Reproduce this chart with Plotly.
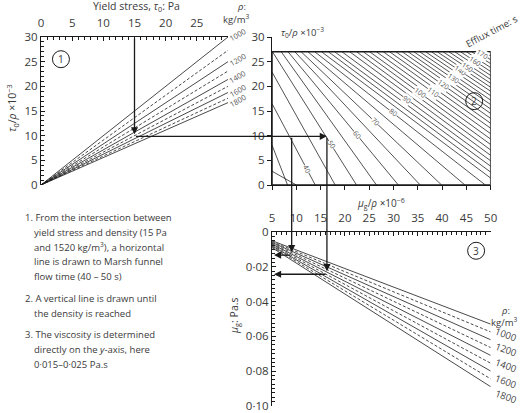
import math
import plotly.graph_objects as go

W, H = 520, 413

# ---------------- data ----------------
# Panel 1: tau0/rho (x10^-3) against yield stress for each density
p1_density = [1000, 1100, 1200, 1300, 1400, 1500, 1600, 1700, 1800]
p1_tau_start = [0, 0, 0, 0, 0, 0, 0, 0, 0]
p1_tau_end = [30, 30, 30, 30, 30, 30, 30, 30, 30]
p1_ratio_start = [0, 0, 0, 0, 0, 0, 0, 0, 0]
p1_ratio_end = [30.0, 27.3, 25.0, 23.1, 21.4, 20.0, 18.75, 17.6, 16.7]

# Panel 2: efflux-time lines, end points (mu_g/rho x10^-6, tau0/rho x10^-3)
p2_x_upper = [5.0, 5.0, 5.0, 5.1, 6.9, 8.3, 9.7, 11.0, 12.4, 13.8,
              15.2, 16.6, 17.9, 19.4, 21.0, 22.4, 23.8, 25.1, 26.5, 27.9,
              29.2, 30.5, 31.8, 33.0, 34.2, 35.4, 36.6, 37.8, 39.0, 40.2,
              41.4, 42.6, 43.8, 45.0, 46.1, 47.4, 48.6]
p2_y_upper = [8.1, 16.5, 22.9, 27, 27, 27, 27, 27, 27, 27,
              27, 27, 27, 27, 27, 27, 27, 27, 27, 27,
              27, 27, 27, 27, 27, 27, 27, 27, 27, 27,
              27, 27, 27, 27, 27, 27, 27]
p2_x_lower = [8.2, 13.9, 18.0, 22.4, 26.5, 31.0, 35.5, 39.9, 44.7, 48.9,
              50, 50, 50, 50, 50, 50, 50, 50, 50, 50,
              50, 50, 50, 50, 50, 50, 50, 50, 50, 50,
              50, 50, 50, 50, 50, 50, 50]
p2_y_lower = [0, 0, 0, 0, 0, 0, 0, 0, 0, 0,
              1.4, 2.6, 3.8, 4.9, 6.0, 7.1, 8.2, 9.3, 10.4, 11.5,
              12.5, 13.5, 14.5, 15.4, 16.3, 17.2, 18.1, 19.0, 19.8, 20.6,
              21.4, 22.2, 23.0, 23.8, 24.6, 25.4, 26.2]
p2_limit_x = [5.0, 10.0]
p2_limit_y = [2.8, 0.0]
p2_box_x = [5, 50]
p2_box_y = [0, 27]
# efflux-time labels (s) and where they sit
p2_label_time = [40, 50, 60, 70, 80, 90, 100, 110, 120, 130, 140, 150, 160, 170]
p2_label_x = [12.1, 17.2, 22.4, 26.2, 29.9, 32.7, 35.4, 38.2, 40.2, 42.3, 43.7, 45.2, 46.8, 48.3]
p2_label_y = [3.6, 7.3, 10.5, 12.8, 14.5, 16.9, 18.2, 19.2, 20.4, 21.8, 22.9, 23.9, 25.3, 26.3]

# Panel 3: viscosity against mu_g/rho for each density
p3_density = [1000, 1100, 1200, 1300, 1400, 1500, 1600, 1700, 1800]
p3_x_start = [5, 5, 5, 5, 5, 5, 5, 5, 5]
p3_x_end = [50, 50, 50, 50, 50, 50, 50, 50, 50]
p3_mu_start = [0.0050, 0.0055, 0.0060, 0.0065, 0.0070, 0.0075, 0.0080, 0.0085, 0.0090]
p3_mu_end = [0.053, 0.0575, 0.062, 0.0665, 0.071, 0.0755, 0.080, 0.0845, 0.089]

# Worked example
ex_tau0 = 15
ex_ratio = 9.87
ex_mu_rho = [9.05, 16.3]
ex_mu = [0.0133, 0.0243]

p1_ticks = [0, 5, 10, 15, 20, 25, 30]
p1_top_ticktext = ['0', '5', '10', '15', '20', '25', '']
p1_ticktext = ['0', '5', '10', '15', '20', '25', '30']
p3_yticks = [0, 0.02, 0.04, 0.06, 0.08, 0.10]
p3_yticktext = ['0', '0·02', '0·04', '0·06', '0·08', '0·10']

notes = [
    ("1. From the intersection between", 0),
    ("yield stress and density (15 Pa", 1),
    ("and 1520 kg/m<sup>3</sup>), a horizontal", 1),
    ("line is drawn to Marsh funnel", 1),
    ("flow time (40 – 50 s)", 1),
    ("2. A vertical line is drawn until", 0),
    ("the density is reached", 1),
    ("3. The viscosity is determined", 0),
    ("directly on the <i>y</i>-axis, here", 1),
    ("0·015–0·025 Pa.s", 1),
]
note_y_px = [217, 232, 247, 261.5, 276, 298, 313, 334.5, 349.5, 364.5]

# ---------------- layout geometry ----------------
def px_x(p):
    return p / W


def px_y(p):
    return 1 - p / H


X1_DOM = [px_x(41), px_x(228)]
Y1_DOM = [px_y(185), px_y(37)]
X2_DOM = [px_x(272), px_x(490.7)]
Y3_DOM = [px_y(406), px_y(232)]
X1_RNG = [0, 30]
Y1_RNG = [0, 30]
X2_RNG = [5, 50]
Y3_RNG = [0.1001, 0]


def to_paper(v, dom, rng):
    return dom[0] + (v - rng[0]) / (rng[1] - rng[0]) * (dom[1] - dom[0])


def from_paper(p, dom, rng):
    return rng[0] + (p - dom[0]) / (dom[1] - dom[0]) * (rng[1] - rng[0])


LINE = '#1a1a1a'
TXT = '#3a3a3a'
FONT = 'Open Sans'

fig = go.Figure()

for i, rho in enumerate(p1_density):
    fig.add_trace(go.Scatter(
        x=[p1_tau_start[i], p1_tau_end[i]], y=[p1_ratio_start[i], p1_ratio_end[i]],
        mode='lines', xaxis='x', yaxis='y', hoverinfo='skip', showlegend=False,
        line=dict(color=LINE, width=0.8, dash='solid' if rho % 200 == 0 else '3px,2px')))

for i in range(len(p2_x_upper)):
    fig.add_trace(go.Scatter(
        x=[p2_x_upper[i], p2_x_lower[i]], y=[p2_y_upper[i], p2_y_lower[i]],
        mode='lines', xaxis='x2', yaxis='y2', hoverinfo='skip', showlegend=False,
        line=dict(color=LINE, width=0.75)))
fig.add_trace(go.Scatter(x=p2_limit_x, y=p2_limit_y, mode='lines', xaxis='x2', yaxis='y2',
                         hoverinfo='skip', showlegend=False, line=dict(color=LINE, width=0.75)))

for i, rho in enumerate(p3_density):
    fig.add_trace(go.Scatter(
        x=[p3_x_start[i], p3_x_end[i]], y=[p3_mu_start[i], p3_mu_end[i]],
        mode='lines', xaxis='x3', yaxis='y3', hoverinfo='skip', showlegend=False,
        line=dict(color=LINE, width=0.8, dash='solid' if rho % 200 == 0 else '3px,2px')))

ann = []
shapes = []

shapes.append(dict(type='rect', xref='x2', yref='y2', x0=p2_box_x[0], x1=p2_box_x[1],
                   y0=p2_box_y[0], y1=p2_box_y[1], line=dict(color=LINE, width=1.5)))

# panel 2 labels: put each on the nearest line, rotated along it
xppu = (X2_DOM[1] - X2_DOM[0]) * W / (X2_RNG[1] - X2_RNG[0])
yppu = (Y1_DOM[1] - Y1_DOM[0]) * H / (Y1_RNG[1] - Y1_RNG[0])
for t, lx, lyr in zip(p2_label_time, p2_label_x, p2_label_y):
    best = None
    for i in range(len(p2_x_upper)):
        x0, y0, x1, y1 = p2_x_upper[i], p2_y_upper[i], p2_x_lower[i], p2_y_lower[i]
        if min(x0, x1) <= lx <= max(x0, x1):
            yy = y0 + (lx - x0) * (y1 - y0) / (x1 - x0)
            if best is None or abs(yy - lyr) < best[0]:
                best = (abs(yy - lyr), yy, i)
    _, ly, i = best
    x0, y0, x1, y1 = p2_x_upper[i], p2_y_upper[i], p2_x_lower[i], p2_y_lower[i]
    ang = math.degrees(math.atan(-(y1 - y0) * yppu / ((x1 - x0) * xppu)))
    ann.append(dict(xref='x2', yref='y2', x=lx, y=ly, text=str(t), showarrow=False,
                    textangle=ang, bgcolor='white', borderpad=0,
                    font=dict(size=7, color='#555', family=FONT)))

for i, rho in enumerate(p1_density):
    if rho % 200 == 0:
        ann.append(dict(xref='x', yref='y', x=p1_tau_end[i], y=p1_ratio_end[i], text=str(rho),
                        showarrow=False, textangle=-30, xshift=9, yshift=2,
                        font=dict(size=7.5, color='#555', family=FONT)))

for i, rho in enumerate(p3_density):
    if rho % 200 == 0:
        ann.append(dict(xref='x3', yref='y3', x=p3_x_end[i], y=p3_mu_end[i], text=str(rho),
                        showarrow=False, textangle=20, xshift=15, yshift=-10,
                        font=dict(size=9.5, color='#444', family=FONT)))

arrow = dict(showarrow=True, text='', arrowhead=2, arrowsize=1.1, arrowwidth=1.3,
             arrowcolor=LINE, standoff=0)
ann.append(dict(arrow, xref='x', yref='y', x=ex_tau0, y=ex_ratio, axref='x', ayref='y',
                ax=ex_tau0, ay=Y1_RNG[1], standoff=2))
start_x2 = from_paper(to_paper(ex_tau0, X1_DOM, X1_RNG), X2_DOM, X2_RNG)
ann.append(dict(arrow, xref='x2', yref='y2', x=ex_mu_rho[1], y=ex_ratio, axref='x2', ayref='y2',
                ax=start_x2, ay=ex_ratio))
top_y3 = from_paper(to_paper(ex_ratio, Y1_DOM, Y1_RNG), Y3_DOM, Y3_RNG)
for mx, mu in zip(ex_mu_rho, ex_mu):
    ann.append(dict(arrow, xref='x3', yref='y3', x=mx, y=mu, axref='x3', ayref='y3',
                    ax=mx, ay=top_y3, standoff=3))
    ann.append(dict(arrow, xref='x3', yref='y3', x=X2_RNG[0], y=mu, axref='x3', ayref='y3',
                    ax=mx, ay=mu, standoff=2))

for num, xr, yr, cx, cy in [('1', 'x', 'y', 3.2, 25.5), ('2', 'x2', 'y2', 46.6, 17.0),
                            ('3', 'x3', 'y3', 47.0, 0.0108)]:
    shapes.append(dict(type='circle', xref=xr, yref=yr, xsizemode='pixel', ysizemode='pixel',
                       xanchor=cx, yanchor=cy, x0=-8.5, x1=8.5, y0=-8.5, y1=8.5,
                       line=dict(color=LINE, width=1)))
    ann.append(dict(xref=xr, yref=yr, x=cx, y=cy, text=num, showarrow=False,
                    font=dict(size=10, color=TXT, family=FONT)))


def text(s, x, y, size=10.5, angle=0, xanchor='center', color=TXT):
    ann.append(dict(xref='paper', yref='paper', x=px_x(x), y=px_y(y), text=s, showarrow=False,
                    textangle=angle, xanchor=xanchor, yanchor='middle',
                    font=dict(size=size, color=color, family=FONT)))


text('Yield stress, <i>τ</i><sub>0</sub>: Pa', 136, 7, size=10.5)
text('<i>ρ</i>:', 241, 6, size=9.5)
text('kg/m<sup>3</sup>', 236, 19, size=9.5)
text('<i>τ</i><sub>0</sub>/<i>ρ</i> ×10<sup>−3</sup>', 12, 108, size=10.5, angle=-90)
text('<i>τ</i><sub>0</sub>/<i>ρ</i> ×10<sup>−3</sup>', 279, 33, size=9.5, xanchor='left')
text('Efflux time: s', 491, 31, size=9.5, angle=-28)
text('<i>μ</i><sub>g</sub>/<i>ρ</i> ×10<sup>−6</sup>', 381, 203, size=10)
text('<i>μ</i><sub>g</sub>: Pa.s', 234, 316, size=10.5, angle=-90)
text('<i>ρ</i>:', 505, 310, size=9.5)
text('kg/m<sup>3</sup>', 519, 322, size=9.5, xanchor='right')

for (s, indent), yy in zip(notes, note_y_px):
    text(s, 22.5 if indent == 0 else 32, yy, size=9.5, xanchor='left')

tickfont = dict(size=11.5, color=TXT, family=FONT)
common = dict(showgrid=False, zeroline=False, showline=True, linecolor=LINE, linewidth=1.2,
              tickcolor=LINE, tickwidth=1, tickfont=tickfont, fixedrange=True, automargin=False)

fig.update_layout(
    width=W, height=H, autosize=False, margin=dict(l=0, r=0, t=0, b=0, pad=0, autoexpand=False),
    paper_bgcolor='white', plot_bgcolor='rgba(0,0,0,0)', showlegend=False,
    xaxis=dict(common, domain=X1_DOM, range=X1_RNG, anchor='y', side='top', ticks='inside',
               ticklen=4, tickvals=p1_ticks, ticktext=p1_top_ticktext, ticklabelstandoff=4,
               minor=dict(ticks='inside', ticklen=2.5, dtick=1, tick0=0, tickcolor=LINE)),
    yaxis=dict(common, domain=Y1_DOM, range=Y1_RNG, anchor='x', ticks='inside', ticklen=4,
               tickvals=p1_ticks, ticktext=p1_ticktext,
               minor=dict(ticks='inside', ticklen=2.5, dtick=1, tick0=0, tickcolor=LINE)),
    xaxis2=dict(common, domain=X2_DOM, range=X2_RNG, anchor='y2', side='bottom', ticks='outside',
                ticklen=4, dtick=5, tick0=5, showticklabels=False),
    yaxis2=dict(common, domain=Y1_DOM, range=Y1_RNG, anchor='x2', ticks='outside', ticklen=4,
                tickvals=p1_ticks, ticktext=p1_ticktext),
    xaxis3=dict(common, domain=X2_DOM, range=X2_RNG, anchor='y3', side='top', ticks='inside',
                ticklen=4, dtick=5, tick0=5, ticklabelstandoff=4,
                minor=dict(ticks='inside', ticklen=2.5, dtick=1, tick0=5, tickcolor=LINE)),
    yaxis3=dict(common, domain=Y3_DOM, range=Y3_RNG, anchor='x3', ticks='inside', ticklen=4,
                tickvals=p3_yticks, ticktext=p3_yticktext, ticklabeloverflow='allow',
                minor=dict(ticks='inside', ticklen=2.5, tickmode='linear', dtick=0.0025, tick0=0,
                           tickcolor=LINE)),
    annotations=ann, shapes=shapes,
)

fig.write_html('out.html', config={'displayModeBar': False},
               post_script="document.body.style.margin='0';document.body.style.padding='0';"
                           "document.body.style.overflow='hidden';")
